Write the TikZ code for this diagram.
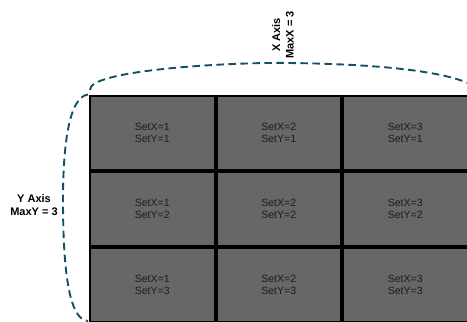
\documentclass[tikz,border=0pt]{standalone}
\usepackage{fontspec}
\setmainfont{Liberation Sans}
\begin{document}
\begin{tikzpicture}[x=1pt,y=-1pt,
  cellbox/.style={draw=black,line width=2pt,fill=cellgray,minimum width=124.5pt,minimum height=74pt,
    inner sep=0pt,text=celltext,font=\fontsize{10.5}{12.5}\selectfont,align=center},
  axislabel/.style={font=\bfseries\fontsize{11}{13.5}\selectfont,align=center,inner sep=0pt},
  axiscurve/.style={draw=axisteal,line width=1.9pt,dash pattern=on 7.5pt off 4.5pt}]
\definecolor{cellgray}{RGB}{103,103,103}
\definecolor{celltext}{RGB}{28,28,28}
\definecolor{axisteal}{RGB}{16,82,100}
\useasboundingbox (0,0) rectangle (467,322);
% cells
\foreach \i in {1,2,3}{
  \foreach \j in {1,2,3}{
    \node[cellbox] (c\i\j) at ({89+(\i-1)*126.5+63.25},{95+(\j-1)*76+38}) {SetX=\i\\SetY=\j};
  }
}
% axis curves
\coordinate (xs) at (90,90);
\coordinate (xe) at (470,84);
\coordinate (ys) at (88,94.5);
\coordinate (ye) at (88,321);
\draw[axiscurve] (xs) .. controls (88,70) and (230,62) .. (290,63)
  .. controls (370,64) and (440,70) .. (xe);
\draw[axiscurve] (ys) .. controls (68,97) and (63,150) .. (63,200)
  .. controls (63,265) and (68,320) .. (ye);
% labels
\node[axislabel,rotate=90] (xlab) at (283,35) {X Axis\\MaxX = 3};
\node[axislabel] (ylab) at (34,205) {Y Axis\\MaxY = 3};
\end{tikzpicture}
\end{document}
